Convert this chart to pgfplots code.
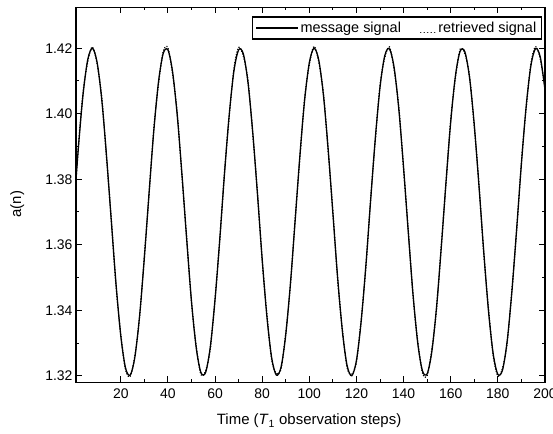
\documentclass[border=0pt]{standalone}
\usepackage{fontspec}
\setmainfont{Liberation Sans}
\usepackage{pgfplots}
\pgfplotsset{compat=1.18}
\usepackage{pgfplotstable}
\pgfplotstableread{
n a
0 1.3700
2 1.3895
4 1.4059
6 1.4166
8 1.4200
10 1.4155
12 1.4038
14 1.3867
16 1.3671
18 1.3479
20 1.3322
22 1.3224
24 1.3202
26 1.3258
28 1.3384
30 1.3560
32 1.3758
34 1.3947
36 1.4097
38 1.4184
40 1.4195
42 1.4127
44 1.3992
46 1.3811
48 1.3613
50 1.3428
52 1.3286
54 1.3210
56 1.3210
58 1.3289
60 1.3432
62 1.3617
64 1.3816
66 1.3996
68 1.4130
70 1.4195
72 1.4183
74 1.4094
76 1.3943
78 1.3754
80 1.3556
82 1.3381
84 1.3256
86 1.3202
88 1.3226
90 1.3325
92 1.3483
94 1.3675
96 1.3872
98 1.4041
100 1.4156
102 1.4200
104 1.4164
106 1.4056
108 1.3891
110 1.3696
112 1.3501
114 1.3338
116 1.3232
118 1.3200
120 1.3247
122 1.3366
124 1.3537
126 1.3734
128 1.3925
130 1.4081
132 1.4177
134 1.4198
136 1.4140
138 1.4012
140 1.3835
142 1.3637
144 1.3449
146 1.3300
148 1.3215
150 1.3206
152 1.3275
154 1.3411
156 1.3593
158 1.3792
160 1.3976
162 1.4116
164 1.4191
166 1.4189
168 1.4109
170 1.3965
172 1.3778
174 1.3580
176 1.3400
178 1.3268
180 1.3204
182 1.3218
184 1.3309
186 1.3461
188 1.3651
190 1.3848
192 1.4022
194 1.4146
196 1.4199
198 1.4173
200 1.4073
}\message
\pgfplotstableread{
n a
0 1.3703
2 1.3900
4 1.4066
6 1.4160
8 1.4204
10 1.4150
12 1.4045
14 1.3860
16 1.3676
18 1.3472
20 1.3327
22 1.3219
24 1.3198
26 1.3262
28 1.3380
30 1.3566
32 1.3752
34 1.3953
36 1.4090
38 1.4190
40 1.4201
42 1.4120
44 1.3998
46 1.3805
48 1.3618
50 1.3422
52 1.3291
54 1.3204
56 1.3215
58 1.3283
60 1.3438
62 1.3611
64 1.3822
66 1.3990
68 1.4137
70 1.4203
72 1.4176
74 1.4100
76 1.3937
78 1.3760
80 1.3550
82 1.3387
84 1.3250
86 1.3207
88 1.3221
90 1.3331
92 1.3477
94 1.3681
96 1.3866
98 1.4047
100 1.4150
102 1.4206
104 1.4158
106 1.4062
108 1.3885
110 1.3702
112 1.3495
114 1.3344
116 1.3226
118 1.3205
120 1.3242
122 1.3372
124 1.3531
126 1.3740
128 1.3919
130 1.4087
132 1.4171
134 1.4204
136 1.4134
138 1.4018
140 1.3829
142 1.3643
144 1.3443
146 1.3306
148 1.3209
150 1.3201
152 1.3281
154 1.3405
156 1.3599
158 1.3786
160 1.3982
162 1.4110
164 1.4197
166 1.4183
168 1.4115
170 1.3959
172 1.3784
174 1.3574
176 1.3406
178 1.3262
180 1.3199
182 1.3224
184 1.3303
186 1.3467
188 1.3645
190 1.3854
192 1.4016
194 1.4152
196 1.4205
198 1.4167
200 1.4079
}\retrieved
\begin{document}
\begin{tikzpicture}
\begin{axis}[
  scale only axis,
  width=469bp, height=375bp,
  xmin=1, xmax=200, ymin=1.318, ymax=1.4325,
  xtick={20,40,...,200},
  minor x tick num=1,
  ytick={1.32,1.34,1.36,1.38,1.40,1.42},
  minor y tick num=1,
  yticklabel style={/pgf/number format/fixed,/pgf/number format/fixed zerofill,/pgf/number format/precision=2},
  /pgf/number format/assume math mode=true,
  tick align=inside,
  major tick length=6bp, minor tick length=3bp,
  tick style={line width=1pt,black},
  axis line style={line width=1.3pt},
  ticklabel style={font=\fontsize{14}{16}\selectfont},
  xticklabel style={yshift=-3bp},
  xlabel={Time (\textit{T}\textsubscript{1} observation steps)},
  ylabel={a(n)},
  xlabel style={at={(axis description cs:0.497,-0.075)}, anchor=north},
  ylabel style={at={(axis description cs:-0.103,0.475)}, anchor=south},
  label style={font=\fontsize{15}{17}\selectfont},
  legend columns=2,
  legend style={at={(1,1)}, anchor=north east, xshift=-3bp, yshift=-9bp,
    draw=black, line width=1.5pt, font=\fontsize{14.5}{16}\selectfont,
    inner xsep=3bp, inner ysep=3bp, row sep=0pt,
    /tikz/column 2/.style={column sep=17bp}},
  legend cell align=left,
]
\coordinate (ll) at (rel axis cs:0,0);
\coordinate (ur) at (rel axis cs:1,1);
\addplot[black, line width=1.3pt, smooth, legend image code/.code={\draw[black,line width=1.1pt] (0bp,0bp) -- (42bp,0bp);}] table[x=n,y=a] {\message};
\addlegendentry{message signal}
\addplot[black, line width=1.4pt, smooth, dash pattern=on 0.3pt off 2.4pt, line cap=round, legend image code/.code={\draw[black,line width=1.3pt,dash pattern=on 0.1pt off 3.4pt,line cap=round] (0bp,-4.5bp) -- (15bp,-4.5bp);}] table[x=n,y=a] {\retrieved};
\addlegendentry{retrieved signal}
\end{axis}
\pgfresetboundingbox
\path[use as bounding box] ([xshift=-76bp,yshift=-51bp]ll) rectangle ([xshift=8bp,yshift=7.3bp]ur);
\end{tikzpicture}
\end{document}
